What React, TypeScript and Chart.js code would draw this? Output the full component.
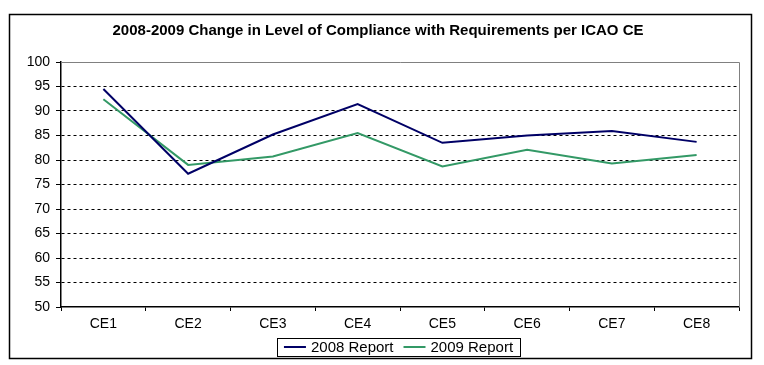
import React, { useEffect, useRef } from "react";
import { Chart, registerables } from "chart.js";

Chart.register(...registerables);

const chartTitle = "2008-2009 Change in Level of Compliance with Requirements per ICAO CE";
const categories = ["CE1", "CE2", "CE3", "CE4", "CE5", "CE6", "CE7", "CE8"];
const seriesLabels = ["2008 Report", "2009 Report"];
const report2008 = [94.5, 77.2, 85.2, 91.4, 83.5, 85.0, 85.9, 83.7];
const report2009 = [92.4, 79.0, 80.7, 85.5, 78.7, 82.1, 79.3, 81.0];
const seriesColors = ["#000066", "#339966"];
const yMin = 50;
const yMax = 100;
const yStep = 5;

const FONT = "'Liberation Sans', Arial, sans-serif";

const decorPlugin = {
  id: "decor",
  beforeDatasetsDraw(chart: any) {
    const { ctx, chartArea } = chart;
    ctx.save();
    ctx.strokeStyle = "#808080";
    ctx.lineWidth = 1;
    ctx.beginPath();
    ctx.moveTo(chartArea.left, Math.round(chartArea.top) + 0.5);
    ctx.lineTo(Math.round(chartArea.right) + 0.5, Math.round(chartArea.top) + 0.5);
    ctx.lineTo(Math.round(chartArea.right) + 0.5, chartArea.bottom);
    ctx.stroke();
    ctx.restore();
  },
  afterDraw(chart: any) {
    const { ctx } = chart;
    ctx.save();
    // outer frame
    ctx.strokeStyle = "#000";
    ctx.lineWidth = 1.5;
    ctx.strokeRect(9.5, 14.5, 742, 344);
    // title
    ctx.fillStyle = "#000";
    ctx.font = `bold 15px ${FONT}`;
    ctx.textAlign = "center";
    ctx.textBaseline = "middle";
    ctx.fillText(chartTitle, 378, 31);
    // legend
    ctx.font = `15px ${FONT}`;
    const lineLen = 22;
    const gapLineText = 5;
    const gapItems = 10;
    const ds = chart.data.datasets;
    const widths = ds.map((d: any) => lineLen + gapLineText + ctx.measureText(d.label).width);
    const total = widths.reduce((a: number, b: number) => a + b, 0) + gapItems * (ds.length - 1);
    const cx = 398.5;
    const cy = 347;
    const padX = 7;
    const boxL = Math.round(cx - total / 2 - padX) + 0.5;
    const boxR = Math.round(cx + total / 2 + padX) + 0.5;
    ctx.strokeStyle = "#000";
    ctx.lineWidth = 1;
    ctx.strokeRect(boxL, 338.5, boxR - boxL, 18);
    let x = cx - total / 2;
    ctx.textAlign = "left";
    ds.forEach((d: any, i: number) => {
      ctx.strokeStyle = d.borderColor;
      ctx.lineWidth = 2;
      ctx.beginPath();
      ctx.moveTo(x, cy);
      ctx.lineTo(x + lineLen, cy);
      ctx.stroke();
      ctx.fillStyle = "#000";
      ctx.fillText(d.label, x + lineLen + gapLineText, cy + 0.5);
      x += widths[i] + gapItems;
    });
    ctx.restore();
  },
};

export default function App() {
  const canvasRef = useRef<HTMLCanvasElement | null>(null);

  useEffect(() => {
    if (!canvasRef.current) return;
    const chart = new Chart(canvasRef.current, {
      type: "line",
      data: {
        labels: categories,
        datasets: [
          {
            label: seriesLabels[0],
            data: report2008,
            borderColor: seriesColors[0],
            backgroundColor: seriesColors[0],
            borderWidth: 2,
            pointRadius: 0,
            tension: 0,
          },
          {
            label: seriesLabels[1],
            data: report2009,
            borderColor: seriesColors[1],
            backgroundColor: seriesColors[1],
            borderWidth: 2,
            pointRadius: 0,
            tension: 0,
          },
        ],
      },
      options: {
        animation: false,
        responsive: true,
        maintainAspectRatio: false,
        devicePixelRatio: 1,
        layout: { padding: { left: 0, right: 25, top: 62, bottom: 0 } },
        plugins: {
          legend: { display: false },
          title: { display: false },
          tooltip: { enabled: false },
        },
        scales: {
          x: {
            type: "category",
            offset: true,
            grid: {
              display: true,
              offset: true,
              drawOnChartArea: false,
              drawTicks: true,
              tickLength: 4,
              tickColor: "#000",
              color: "#000",
            },
            border: { display: true, color: "#000", width: 1.5 },
            ticks: {
              color: "#000",
              font: { family: FONT, size: 14 },
              padding: 5,
              maxRotation: 0,
              autoSkip: false,
            },
            afterFit(scale: any) {
              scale.height = 58;
            },
          },
          y: {
            min: yMin,
            max: yMax,
            grid: {
              display: true,
              drawTicks: true,
              tickLength: 5,
              tickColor: "#000",
              tickBorderDash: [],
              color: (ctx: any) =>
                ctx.tick && (ctx.tick.value === yMax || ctx.tick.value === yMin)
                  ? "rgba(0,0,0,0)"
                  : "#000",
              lineWidth: 1,
            },
            border: { display: true, color: "#000", width: 1.5, dash: [3, 3] },
            ticks: {
              stepSize: yStep,
              color: "#000",
              font: { family: FONT, size: 14 },
              padding: 6,
            },
            afterFit(scale: any) {
              scale.width = 61;
            },
          },
        },
      },
      plugins: [decorPlugin],
    });
    return () => chart.destroy();
  }, []);

  return (
    <div style={{ position: "absolute", left: 0, top: 0, width: 764, height: 365, background: "#fff" }}>
      <canvas ref={canvasRef} />
    </div>
  );
}
